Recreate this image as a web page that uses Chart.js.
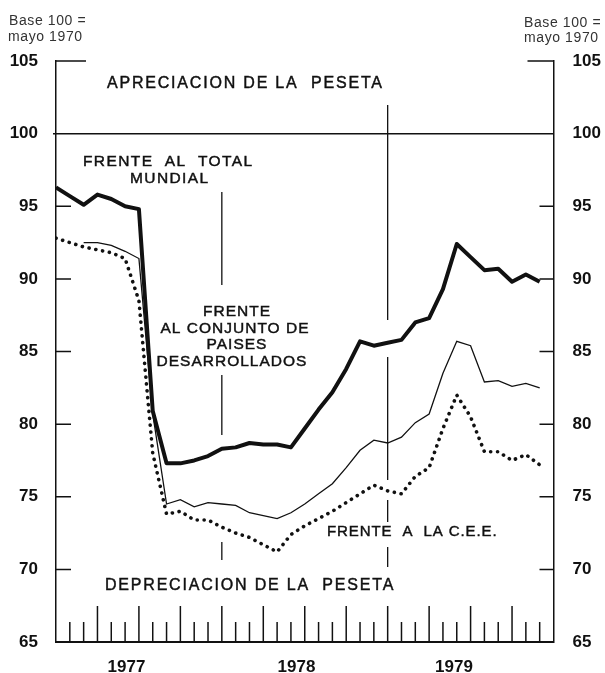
<!DOCTYPE html>
<html>
<head>
<meta charset="utf-8">
<script src="https://cdn.jsdelivr.net/npm/chart.js@4.4.1/dist/chart.umd.min.js"></script>
<style>
  html, body { margin: 0; padding: 0; background: #fff; }
  #wrap { width: 605px; height: 673px; }
</style>
</head>
<body>
<div id="wrap"><canvas id="myChart"></canvas></div>
<script>

// monthly values, 36 months, one per tick (first at the left axis)
let totalMundial = [96.3, 95.7, 95.1, 95.8, 95.5, 95.0, 94.8, 80.9, 77.3, 77.3, 77.5, 77.8,
                    78.3, 78.4, 78.7, 78.6, 78.6, 78.4, 79.7, 81.0, 82.2, 83.8, 85.7, 85.4,
                    85.6, 85.8, 87.0, 87.3, 89.3, 92.4, 91.5, 90.6, 90.7, 89.8, 90.3, 89.8];
let paisesDesarrollados = [null, null, 92.5, 92.5, 92.3, 91.9, 91.4, 80.7, 74.5, 74.8, 74.3, 74.6,
                    74.5, 74.4, 73.9, 73.7, 73.5, 73.9, 74.5, 75.2, 75.9, 77.0, 78.2, 78.9,
                    78.7, 79.1, 80.1, 80.7, 83.5, 85.7, 85.4, 82.9, 83.0, 82.6, 82.8, 82.5];
let frenteCEE = [92.8, 92.5, 92.2, 92.0, 91.8, 91.4, 88.5, 78.0, 73.8, 74.0, 73.4, 73.4,
                 72.9, 72.5, 72.2, 71.7, 71.2, 72.4, 73.0, 73.5, 74.0, 74.6, 75.2, 75.8,
                 75.4, 75.2, 76.4, 77.0, 79.7, 82.0, 80.5, 78.1, 78.1, 77.5, 77.9, 77.2];
let years = ["1977", "1978", "1979"];
let yearAt = [5.1, 17.4, 28.8];
let yMin = 65, yMax = 105, yStep = 5;
let nMonths = 36;

const FONT = '"Liberation Sans", Arial, sans-serif';

function pts(arr) {
    return arr.map((v, i) => ({ x: i, y: v }));
}

// slightly heavier text, like the printed original
function label(ctx, txt, x, y) {
    ctx.fillText(txt, x, y);
    ctx.strokeText(txt, x, y);
}

// tick marks, reference lines and texts
const decor = {
    id: 'decor',
    beforeDatasetsDraw(chart) {
        const ctx = chart.ctx;
        const x = chart.scales.x, y = chart.scales.y;
        const a = chart.chartArea;
        ctx.save();
        ctx.strokeStyle = '#111';
        ctx.lineCap = 'butt';

        // line at 100
        ctx.lineWidth = 1.5;
        ctx.beginPath();
        ctx.moveTo(a.left - 3, y.getPixelForValue(100));
        ctx.lineTo(a.right, y.getPixelForValue(100));
        ctx.stroke();

        // inward y ticks
        for (let v = yMin + yStep; v <= yMax; v += yStep) {
            if (v === 100) continue;
            const py = y.getPixelForValue(v);
            const lenL = v === yMax ? 30 : 15;
            const lenR = v === yMax ? 26 : 14;
            ctx.beginPath();
            ctx.moveTo(a.left, py); ctx.lineTo(a.left + lenL, py);
            ctx.moveTo(a.right, py); ctx.lineTo(a.right - lenR, py);
            ctx.stroke();
        }

        // monthly ticks on the base
        ctx.lineWidth = 1.5;
        for (let i = 1; i < nMonths; i++) {
            const px = x.getPixelForValue(i);
            const len = i % 3 === 0 ? 36 : 20;
            ctx.beginPath();
            ctx.moveTo(px, a.bottom);
            ctx.lineTo(px, a.bottom - len);
            ctx.stroke();
        }

        // broken vertical lines at year ends
        ctx.lineWidth = 1.3;
        const cuts = [
            [12, [[192, 285], [375, 435], [542, 560]]],
            [24, [[105, 320], [357, 480], [500, 522], [547, 567]]]
        ];
        cuts.forEach(([m, segs]) => {
            const px = x.getPixelForValue(m);
            segs.forEach(s => {
                ctx.beginPath();
                ctx.moveTo(px, s[0]); ctx.lineTo(px, s[1]);
                ctx.stroke();
            });
        });

        // texts
        ctx.fillStyle = '#111';
        ctx.lineWidth = 0.45;
        ctx.textBaseline = 'alphabetic';
        ctx.textAlign = 'left';
        ctx.font = '16px ' + FONT;
        ctx.letterSpacing = '1.8px';
        label(ctx, 'APRECIACION DE LA  PESETA', 107, 88);
        label(ctx, 'DEPRECIACION DE LA  PESETA', 105, 590);

        ctx.font = '15.5px ' + FONT;
        ctx.letterSpacing = '1.4px';
        label(ctx, 'FRENTE  AL  TOTAL', 83, 166);
        label(ctx, 'MUNDIAL', 130, 183);

        ctx.font = '15px ' + FONT;
        ctx.letterSpacing = '0.9px';
        label(ctx, 'FRENTE  A  LA C.E.E.', 327, 536);

        ctx.font = '15.5px ' + FONT;
        ctx.letterSpacing = '1px';
        ctx.textAlign = 'center';
        label(ctx, 'FRENTE', 237, 316);
        label(ctx, 'AL CONJUNTO DE', 235, 333);
        label(ctx, 'PAISES', 237, 349);
        label(ctx, 'DESARROLLADOS', 232, 366);

        ctx.font = '14px ' + FONT;
        ctx.fillStyle = '#333';
        ctx.letterSpacing = '0.6px';
        ctx.textAlign = 'left';
        ctx.fillText('Base 100 =', 9, 25);
        ctx.fillText('mayo 1970', 8, 41);
        ctx.fillText('Base 100 =', 524, 27);
        ctx.fillText('mayo 1970', 524, 42);
        ctx.restore();
    }
};

let ctx1 = document.getElementById('myChart').getContext('2d');

let chart1 = new Chart(ctx1, {
    type: 'line',
    data: {
        datasets: [{
            label: 'Frente al total mundial',
            data: pts(totalMundial),
            borderColor: '#111',
            borderWidth: 4,
            borderJoinStyle: 'round',
            pointRadius: 0,
            tension: 0
        }, {
            label: 'Frente al conjunto de países desarrollados',
            data: pts(paisesDesarrollados),
            borderColor: '#111',
            borderWidth: 1.3,
            pointRadius: 0,
            tension: 0,
            spanGaps: false
        }, {
            label: 'Frente a la C.E.E.',
            data: pts(frenteCEE),
            borderColor: '#111',
            borderWidth: 3.6,
            borderCapStyle: 'round',
            borderDash: [0.1, 6.8],
            pointRadius: 0,
            tension: 0
        }]
    },
    options: {
        responsive: true,
        maintainAspectRatio: false,
        animation: false,
        layout: { padding: { top: 61, left: 0, right: 0, bottom: 0 } },
        plugins: {
            legend: { display: false },
            tooltip: { enabled: false }
        },
        scales: {
            x: {
                type: 'linear',
                min: 0,
                max: nMonths,
                afterBuildTicks: s => { s.ticks = yearAt.map(v => ({ value: v })); },
                afterFit: s => { s.height = 31; },
                grid: { display: false, drawTicks: false },
                border: { display: true, color: '#111', width: 2 },
                ticks: {
                    autoSkip: false,
                    maxRotation: 0,
                    padding: 15,
                    color: '#111',
                    font: { family: FONT, size: 17, weight: 'bold' },
                    callback: (v, i) => years[i]
                }
            },
            y: {
                position: 'left',
                min: yMin,
                max: yMax,
                afterFit: s => { s.width = 56; },
                grid: { display: false, drawTicks: false },
                border: { display: true, color: '#111', width: 1.5 },
                ticks: {
                    stepSize: yStep,
                    padding: 18,
                    color: '#111',
                    font: { family: FONT, size: 17, weight: 'bold' }
                }
            },
            y2: {
                position: 'right',
                min: yMin,
                max: yMax,
                afterFit: s => { s.width = 51.5; },
                grid: { display: false, drawTicks: false },
                border: { display: true, color: '#111', width: 1.5 },
                ticks: {
                    stepSize: yStep,
                    padding: 19,
                    color: '#111',
                    font: { family: FONT, size: 17, weight: 'bold' }
                }
            }
        }
    },
    plugins: [decor]
});

</script>
</body>
</html>
